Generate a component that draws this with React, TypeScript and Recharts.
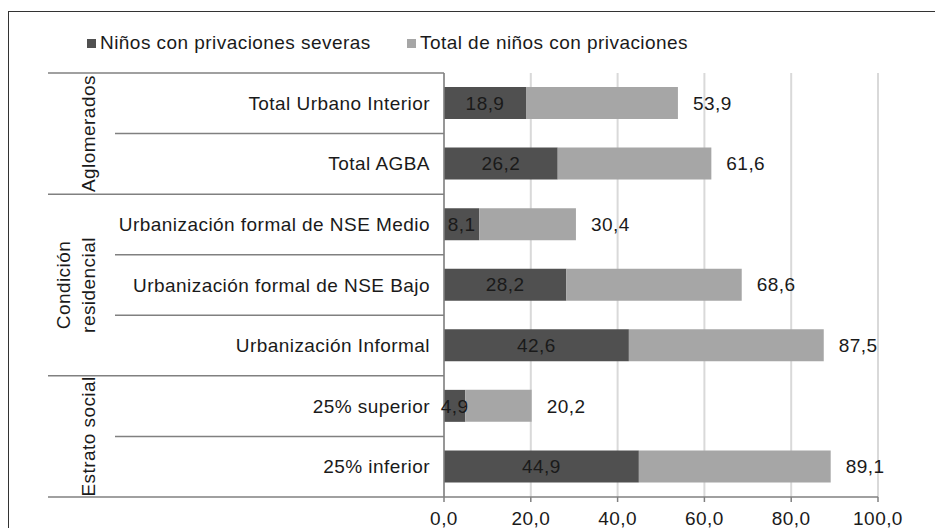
import { Bar, BarChart, CartesianGrid, LabelList, Legend, XAxis, YAxis } from 'recharts';

const categories = [
  'Total Urbano Interior',
  'Total AGBA',
  'Urbanización formal de NSE Medio',
  'Urbanización formal de NSE Bajo',
  'Urbanización Informal',
  '25% superior',
  '25% inferior',
];
const severeValues = [18.9, 26.2, 8.1, 28.2, 42.6, 4.9, 44.9];
const totalValues = [53.9, 61.6, 30.4, 68.6, 87.5, 20.2, 89.1];
const xTicks = [0, 20, 40, 60, 80, 100];
const seriesNames = ['Niños con privaciones severas', 'Total de niños con privaciones'];
const groupNames = [['Aglomerados'], ['Condición', 'residencial'], ['Estrato social']];
const groupSizes = [2, 3, 2];

const DARK = '#505050';
const LIGHT = '#a6a6a6';
const LINE = '#808080';
const TEXT = '#1a1a1a';
const FONT = '"Liberation Sans", Arial, Helvetica, sans-serif';
const FS = 19;
const LS = 0.45;

const W = 935;
const H = 520;
const AXIS_X = 436;
const PLOT_TOP = 65;
const PLOT_BOTTOM = 489;

const data = categories.map((name, i) => ({
  name,
  severe: severeValues[i],
  total: totalValues[i],
  rest: +(totalValues[i] - severeValues[i]).toFixed(1),
}));

const groupStarts = groupSizes.map((_, g) => groupSizes.slice(0, g).reduce((a, b) => a + b, 0));

const fmt = (v: any) => Number(v).toFixed(1).replace('.', ',');

function CategoryTick(props: any) {
  const { y, payload, index } = props;
  const half = payload?.offset || (PLOT_BOTTOM - PLOT_TOP) / categories.length / 2;
  const g = groupStarts.indexOf(index);
  const isStart = g >= 0;
  const last = index === categories.length - 1;
  return (
    <g>
      <line x1={isStart ? 40 : 107} x2={AXIS_X} y1={y - half} y2={y - half} stroke={LINE} strokeWidth={1.5} />
      {last && <line x1={40} x2={AXIS_X} y1={y + half} y2={y + half} stroke={LINE} strokeWidth={1.5} />}
      <text
        x={AXIS_X - 14}
        y={y}
        textAnchor="end"
        dominantBaseline="central"
        fill={TEXT}
        fontSize={FS}
        fontFamily={FONT}
        letterSpacing={LS}
      >
        {payload.value}
      </text>
      {isStart &&
        groupNames[g].map((line, li) => {
          const n = groupNames[g].length;
          const bx = 87 - (n - 1 - li) * 25;
          const cy = y - half + groupSizes[g] * half;
          return (
            <text
              key={li}
              x={bx}
              y={cy}
              transform={`rotate(-90, ${bx}, ${cy})`}
              textAnchor="middle"
              fill={TEXT}
              fontSize={FS}
              fontFamily={FONT}
              letterSpacing={LS}
            >
              {line}
            </text>
          );
        })}
    </g>
  );
}

function LegendBox() {
  const item = (color: string, label: string, left: number) => (
    <div style={{ position: 'absolute', left, top: 0, display: 'flex', alignItems: 'center', whiteSpace: 'nowrap' }}>
      <span style={{ width: 9, height: 9, background: color, display: 'inline-block', marginRight: 4 }} />
      <span style={{ fontSize: FS, letterSpacing: LS, color: TEXT, fontFamily: FONT, lineHeight: '22px' }}>{label}</span>
    </div>
  );
  return (
    <div style={{ position: 'relative', width: 700, height: 22 }}>
      {item(DARK, seriesNames[0], 0)}
      {item(LIGHT, seriesNames[1], 320)}
    </div>
  );
}

export default function App() {
  return (
    <div style={{ position: 'relative', width: W, height: H, overflow: 'hidden', fontFamily: FONT }}>
      <div
        style={{
          position: 'absolute',
          left: 0,
          top: 3,
          width: 1000,
          height: 1000,
          border: '1.5px solid #333',
          boxSizing: 'border-box',
        }}
      />
      <div style={{ position: 'absolute', left: 0, top: 0 }}>
        <BarChart
          width={W}
          height={H}
          data={data}
          layout="vertical"
          margin={{ top: PLOT_TOP, right: W - 870, bottom: 0, left: 0 }}
          barSize={32}
        >
          <CartesianGrid horizontal={false} vertical stroke="#d9d9d9" strokeWidth={2} />
          <XAxis
            type="number"
            domain={[0, 100]}
            ticks={xTicks}
            height={H - PLOT_BOTTOM}
            axisLine={{ stroke: LINE, strokeWidth: 1.5 }}
            tickLine={{ stroke: LINE, strokeWidth: 1.5 }}
            tickSize={5}
            tickMargin={10}
            tickFormatter={fmt}
            tick={{ fill: TEXT, fontSize: FS, fontFamily: FONT, letterSpacing: LS }}
          />
          <YAxis
            type="category"
            dataKey="name"
            width={AXIS_X}
            interval={0}
            axisLine={{ stroke: LINE, strokeWidth: 1.5 }}
            tickLine={false}
            tick={<CategoryTick />}
          />
          <Legend
            layout="vertical"
            verticalAlign="middle"
            align="center"
            wrapperStyle={{ top: 24, left: 79, width: 700 }}
            content={() => <LegendBox />}
          />
          <Bar dataKey="severe" stackId="a" fill={DARK} isAnimationActive={false}>
            <LabelList
              dataKey="severe"
              position="center"
              formatter={fmt}
              fill={TEXT}
              fontSize={FS}
              fontFamily={FONT}
              letterSpacing={LS}
            />
          </Bar>
          <Bar dataKey="rest" stackId="a" fill={LIGHT} isAnimationActive={false}>
            <LabelList
              dataKey="total"
              position="right"
              offset={15}
              formatter={fmt}
              fill={TEXT}
              fontSize={FS}
              fontFamily={FONT}
              letterSpacing={LS}
            />
          </Bar>
        </BarChart>
      </div>
    </div>
  );
}
